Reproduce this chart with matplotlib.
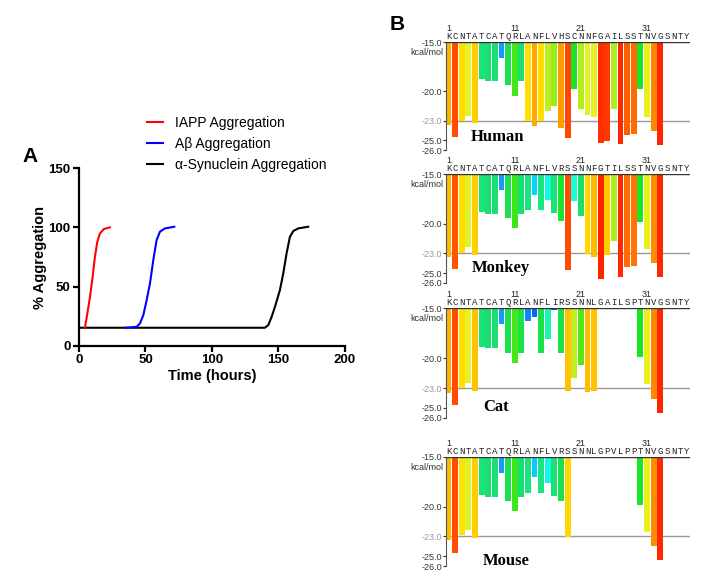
import matplotlib
matplotlib.use("Agg")
import matplotlib.pyplot as plt
from matplotlib.colors import LinearSegmentedColormap
import matplotlib.transforms as mtransforms
import numpy as np

plt.rcParams['font.family'] = ['Liberation Sans', 'DejaVu Sans']

# panel A: aggregation kinetics (time in hours, % aggregation)
iapp_t = [4.5, 6.3, 8.3, 10.3, 12.0, 13.8, 15.8, 18.8, 23.3]
iapp_y = [15.2, 27.3, 41.4, 58.4, 75.3, 88.0, 95.0, 98.7, 100.1]
abeta_t = [35.3, 43.4, 45.9, 48.4, 50.9, 53.4, 55.9, 58.4, 60.9, 64.7, 71.7]
abeta_y = [15.2, 16.0, 18.9, 25.9, 38.6, 52.7, 72.5, 89.4, 96.4, 99.2, 100.6]
syn_t = [0, 139.8, 142.4, 144.9, 147.4, 151.1, 153.6, 156.1, 158.6, 161.2, 164.9, 172.4]
syn_y = [15.2, 15.2, 17.5, 24.5, 33.0, 47.0, 61.0, 78.0, 92.0, 97.0, 99.2, 100.6]

# panel B: energies per residue (kcal/mol), None = no bar
species = ["Human", "Monkey", "Cat", "Mouse"]
sequences = ["KCNTATCATQRLANFLVHSCNNFGAILSSTNVGSNTY",
             "KCNTATCATQRLANFLVRSSNNFGTILSSTNVGSNTY",
             "KCNTATCATQRLANFLIRSSNNLGAILSPTNVGSNTY",
             "KCNTATCATQRLANFLVRSSNNLGPVLPPTNVGSNTY"]
human = [-23.5, -24.7, -23.0, -22.5, -23.2, -18.8, -19.0, -19.0, -16.6, -19.4,
         -20.5, -19.0, -23.0, -23.6, -23.0, -22.0, -21.5, -23.8, -24.8, -19.8,
         -21.8, -22.4, -22.6, -25.3, -25.1, -21.8, -25.4, -24.5, -24.4, -19.8,
         -22.6, -24.1, -25.5]
monkey = [-23.4, -24.6, -23.0, -22.4, -23.2, -18.8, -19.0, -19.0, -16.6, -19.4,
          -20.4, -19.0, -18.6, -17.1, -18.6, -17.6, -18.9, -19.7, -24.7, -17.7,
          -19.2, -23.1, -23.4, -25.6, -23.2, -21.8, -25.4, -24.4, -24.3, -19.8,
          -22.6, -24.0, -25.4]
cat = [-23.5, -24.7, -23.0, -22.5, -23.3, -18.9, -19.0, -19.0, -16.6, -19.5,
       -20.5, -19.5, -16.3, -15.9, -19.5, -18.1, -15.2, -19.5, -23.3, -22.0,
       -20.7, -23.4, -23.3, None, None, None, None, None, None, -19.9,
       -22.6, -24.1, -25.5]
mouse = [-23.4, -24.7, -22.9, -22.4, -23.2, -18.8, -19.0, -19.0, -16.6, -19.4,
         -20.4, -19.0, -18.6, -17.0, -18.6, -17.6, -18.9, -19.4, -23.1, None,
         None, None, None, None, None, None, None, None, None, -19.8,
         -22.6, -24.0, -25.4]
energies = [human, monkey, cat, mouse]
label_x = [4.4, 4.55, 6.2, 6.2]
label_y = [-24.7, -24.5, -24.9, -25.5]

# rainbow scale used for the bars (value -> colour)
stops = [(-15.0, (0.0, 0.2, 1.0)), (-16.0, (0.0, 0.45, 1.0)), (-16.6, (0.1, 0.6, 1.0)),
         (-17.2, (0.0, 0.9, 1.0)), (-17.7, (0.1, 1.0, 0.85)), (-18.6, (0.1, 0.9, 0.5)),
         (-19.0, (0.1, 0.88, 0.45)), (-20.0, (0.1, 0.9, 0.1)), (-21.5, (0.6, 0.92, 0.1)),
         (-22.5, (0.9, 0.95, 0.15)), (-23.0, (1.0, 0.88, 0.0)), (-23.5, (1.0, 0.7, 0.0)),
         (-24.2, (1.0, 0.5, 0.0)), (-24.7, (1.0, 0.3, 0.0)), (-25.5, (1.0, 0.15, 0.0)),
         (-26.0, (1.0, 0.1, 0.0))]
cmap = LinearSegmentedColormap.from_list("energy", [((-15 - v) / 11.0, c) for v, c in stops])

fig = plt.figure(figsize=(7.14, 5.79), dpi=100)

# ---- panel A ----
axA = fig.add_axes([0.1106, 0.4029, 0.3725, 0.3064])
axA.plot(syn_t, syn_y, color="black", lw=1.5, label="α-Synuclein Aggregation", zorder=2)
axA.plot(abeta_t, abeta_y, color="blue", lw=1.5, label="Aβ Aggregation", zorder=3)
axA.plot(iapp_t, iapp_y, color="red", lw=1.5, label="IAPP Aggregation", zorder=3)
axA.set_xlim(0, 200)
axA.set_ylim(0, 150)
axA.set_xticks([0, 50, 100, 150, 200])
axA.set_yticks([0, 50, 100, 150])
for s in ["top", "right"]:
    axA.spines[s].set_visible(False)
for s in ["left", "bottom"]:
    axA.spines[s].set_linewidth(1.6)
axA.tick_params(width=1.6, length=4, labelsize=9.5, pad=2)
for lab in axA.get_xticklabels() + axA.get_yticklabels():
    lab.set_fontweight("bold")
axA.set_xlabel("Time (hours)", fontsize=10.5, fontweight="bold", labelpad=2)
axA.set_ylabel("% Aggregation", fontsize=10.5, fontweight="bold", labelpad=1)
h, l = axA.get_legend_handles_labels()
axA.legend(h[::-1], l[::-1], loc="center left", bbox_to_anchor=(0.257, 1.137),
           frameon=False, fontsize=10, handlelength=1.1, handletextpad=0.9,
           labelspacing=0.5, borderpad=0, borderaxespad=0)
fig.text(0.031, 1 - 157 / 579, "A", fontsize=15, fontweight="bold", va="center")
fig.text(0.546, 1 - 25 / 579, "B", fontsize=15, fontweight="bold", va="center")

# ---- panel B ----
tops = [42, 174, 308, 457]
bottoms = [150, 283, 418, 566]
for i in range(4):
    ax = fig.add_axes([446 / 714, 1 - bottoms[i] / 579, 244 / 714, (bottoms[i] - tops[i]) / 579])
    vals = energies[i]
    pos = [k + 1 for k, v in enumerate(vals) if v is not None]
    vv = np.array([v for v in vals if v is not None])
    ax.bar(pos, vv + 15, bottom=-15, width=0.88, color=cmap((-15 - vv) / 11.0),
           linewidth=0, zorder=2)
    ax.axhline(-23, color="#999999", lw=1, zorder=1)
    ax.axhline(-15, color="#333333", lw=1, zorder=3)
    ax.set_xlim(0.62, 37.5)
    ax.set_ylim(-26, -15)
    ax.set_yticks([-15, -20, -23, -25, -26])
    ax.set_yticklabels(["-15.0", "-20.0", "-23.0", "-25.0", "-26.0"])
    ax.set_xticks([])
    for s in ["top", "right", "bottom"]:
        ax.spines[s].set_visible(False)
    ax.spines["left"].set_color("#555555")
    ax.tick_params(axis="y", length=2, width=0.8, labelsize=6.5, pad=1, colors="#333333")
    ax.get_yticklabels()[2].set_color("#999999")
    trans = mtransforms.blended_transform_factory(ax.transAxes, ax.transData)
    ax.text(-0.012, -16.05, "kcal/mol", transform=trans, ha="right", va="center",
            fontsize=6.5, color="#333333")
    tx = mtransforms.blended_transform_factory(ax.transData, ax.transAxes)
    for k, ch in enumerate(sequences[i]):
        ax.text(k + 1, 1.01, ch, transform=tx, ha="center", va="bottom",
                fontsize=6.5, family="Liberation Mono", color="#222222")
    for n in [1, 11, 21, 31]:
        ax.text(n, 1.085, str(n), transform=tx, ha="center", va="bottom",
                fontsize=6.5, color="#222222")
    ax.text(label_x[i], label_y[i], species[i], ha="left", va="center",
            fontsize=12, fontweight="bold", family="Liberation Serif", zorder=4)

fig.savefig("out.png", dpi=100)
